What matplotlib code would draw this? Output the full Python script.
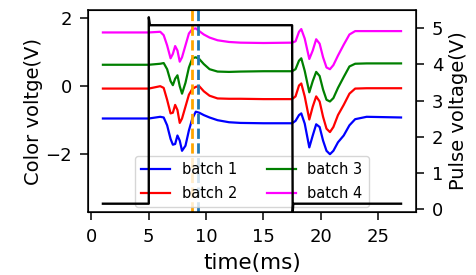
import matplotlib
matplotlib.use("Agg")
import matplotlib.pyplot as plt

# shared time grid (ms) for colour-voltage traces
t = [1, 5, 6, 6.3, 6.6, 6.9, 7.1, 7.3, 7.5, 7.7, 7.9, 8.2, 8.5, 8.8, 9.1, 9.4,
     9.8, 10.3, 11, 12, 13, 15, 17.5, 17.8, 18.1, 18.3, 18.6, 19.0, 19.3, 19.6,
     19.9, 20.2, 20.5, 20.8, 21.1, 21.5, 22, 22.5, 23, 24, 27]

batch1 = [-0.95, -0.95, -0.9, -0.92, -1.15, -1.55, -1.72, -1.7, -1.45, -1.6, -1.9,
          -1.75, -1.3, -0.95, -0.75, -0.78, -0.85, -0.92, -1.0, -1.06, -1.08, -1.09,
          -1.09, -1.02, -0.85, -0.8, -1.1, -1.8, -1.45, -1.12, -1.2, -1.6, -1.9,
          -2.0, -1.9, -1.65, -1.45, -1.15, -0.97, -0.9, -0.92]
batch2 = [-0.07, -0.07, 0.0, -0.05, -0.4, -0.8, -0.78, -0.55, -0.7, -1.08, -0.95,
          -0.6, -0.25, -0.08, -0.02, 0.0, -0.15, -0.28, -0.36, -0.37, -0.37, -0.38,
          -0.38, -0.3, 0.02, 0.08, -0.3, -0.98, -0.6, -0.3, -0.45, -0.9, -1.25,
          -1.35, -1.2, -0.85, -0.55, -0.22, -0.07, -0.06, -0.06]
batch3 = [0.63, 0.63, 0.66, 0.68, 0.5, 0.15, 0.03, 0.22, 0.32, 0.0, -0.22,
          0.1, 0.55, 0.82, 0.85, 0.8, 0.65, 0.5, 0.43, 0.42, 0.43, 0.44,
          0.44, 0.5, 0.75, 0.82, 0.45, -0.18, 0.15, 0.42, 0.3, -0.1, -0.4,
          -0.45, -0.35, -0.05, 0.27, 0.58, 0.66, 0.67, 0.67]
batch4 = [1.58, 1.58, 1.6, 1.5, 1.2, 0.82, 0.95, 1.18, 1.05, 0.72, 0.85,
          1.2, 1.55, 1.68, 1.7, 1.62, 1.52, 1.43, 1.35, 1.3, 1.28, 1.27,
          1.28, 1.32, 1.6, 1.68, 1.4, 0.8, 1.05, 1.38, 1.25, 0.85, 0.55,
          0.5, 0.62, 0.9, 1.22, 1.52, 1.62, 1.62, 1.62]

labels = ["batch 1", "batch 2", "batch 3", "batch 4"]
colors = ["#0000ff", "#ff0000", "#008000", "#ff00ff"]

# pulse voltage trace
t_pulse = [1, 5.0, 5.0, 5.1, 17.5, 17.55, 17.6, 27]
v_pulse = [0.15, 0.15, 5.3, 5.08, 5.08, -0.1, 0.15, 0.15]

# marker times (dashed lines)
t_mark1 = 8.8
t_mark2 = 9.33

fig = plt.figure(figsize=(4.77, 2.75), dpi=100)
ax = fig.add_axes([0.1845, 0.229, 0.6875, 0.7346])

for y, lab, c in zip([batch1, batch2, batch3, batch4], labels, colors):
    ax.plot(t, y, color=c, lw=1.6, label=lab)

ax.axvline(t_mark1, color="orange", ls="--", lw=2)
ax.axvline(t_mark2, color="tab:blue", ls="--", lw=2)

ax.set_ylim(-3.7, 2.24)
ax.set_xticks([0, 5, 10, 15, 20, 25])
ax.set_yticks([-2, 0, 2])
ax.tick_params(labelsize=13, length=6, width=1.1, pad=5.5)
ax.set_xlabel("time(ms)", fontsize=15.5, labelpad=5)
ax.set_ylabel("Color voltge(V)", fontsize=14, labelpad=2)
for s in ax.spines.values():
    s.set_linewidth(1.1)
ax.legend(loc="lower center", ncol=2, fontsize=10.5, labelspacing=0.6,
          bbox_to_anchor=(0.5, 0.005), borderaxespad=0.3)

ax2 = ax.twinx()
ax2.plot(t_pulse, v_pulse, color="black", lw=1.7)
ax2.set_ylim(-0.08, 5.5)
ax2.set_yticks([0, 1, 2, 3, 4, 5])
ax2.tick_params(labelsize=13, length=6, width=1.1, pad=5.5)
ax2.set_ylabel("Pulse voltage(V)", fontsize=14, labelpad=4)

fig.savefig("out.png", dpi=100)
